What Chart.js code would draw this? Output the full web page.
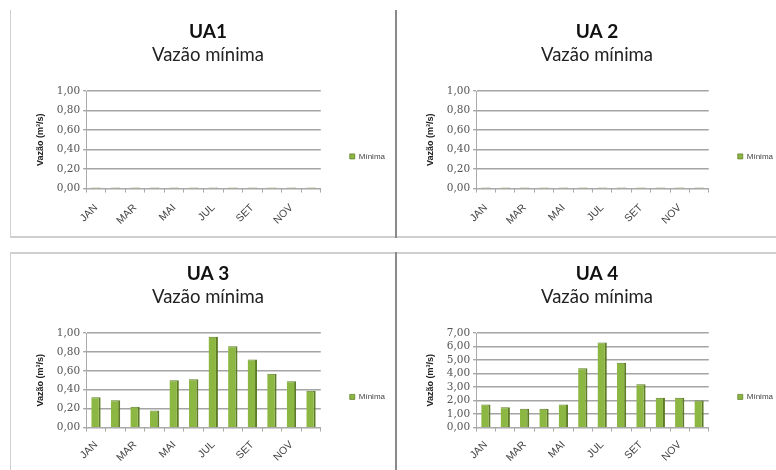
<!DOCTYPE html>
<html>
<head>
<meta charset="utf-8">
<script src="https://cdn.jsdelivr.net/npm/chart.js@4.4.1/dist/chart.umd.min.js"></script>
<style>
  html, body { margin: 0; padding: 0; background: #fff; }
  body { width: 776px; height: 470px; position: relative; overflow: hidden; }
  .panel { position: absolute; box-sizing: border-box; }
  .panel canvas { display: block; }
  .vline { position: absolute; width: 2px; background: #8a8a8a; }
</style>
</head>
<body>
<div class="panel" style="left:10px; top:10px; width:387px; height:228px; border-left:1px solid #d0d0d0; border-bottom:2px solid #cfcfcf;"><canvas id="c1" width="386" height="226"></canvas></div>
<div class="panel" style="left:397px; top:10px; width:379px; height:228px; border-bottom:2px solid #cfcfcf;"><canvas id="c2" width="379" height="226"></canvas></div>
<div class="panel" style="left:10px; top:252px; width:387px; height:218px; border-left:1px solid #d0d0d0; border-top:2px solid #cfcfcf;"><canvas id="c3" width="386" height="216"></canvas></div>
<div class="panel" style="left:397px; top:252px; width:379px; height:218px; border-top:2px solid #cfcfcf;"><canvas id="c4" width="379" height="216"></canvas></div>
<div class="vline" style="left:395px; top:10px; height:228px;"></div>
<div class="vline" style="left:395px; top:252px; height:218px;"></div>
<script>
// ---- data ----
const categories = ['JAN','FEV','MAR','ABR','MAI','JUN','JUL','AGO','SET','OUT','NOV','DEZ'];
const titles = ['UA1', 'UA 2', 'UA 3', 'UA 4'];
const subtitleText = 'Vazão mínima';
const seriesName = 'Mínima';
const axisTitle = 'Vazão (m³/s)';
const ua1Values = [0.01,0.01,0.01,0.01,0.01,0.01,0.01,0.01,0.01,0.01,0.01,0.01];
const ua2Values = [0.01,0.01,0.01,0.01,0.01,0.01,0.01,0.01,0.01,0.01,0.01,0.01];
const ua3Values = [0.32,0.29,0.22,0.18,0.50,0.51,0.96,0.86,0.72,0.57,0.49,0.39];
const ua4Values = [1.7,1.5,1.4,1.4,1.7,4.4,6.3,4.8,3.2,2.2,2.2,2.0];
const yMaxes = [1, 1, 1, 7];
const ySteps = [0.2, 0.2, 0.2, 1];

const green = '#8db743';
const greenDark = '#5e7c26';

function makeChart(id, title, values, yMax, yStep, pad, xTickPad) {
  new Chart(document.getElementById(id), {
    type: 'bar',
    data: {
      labels: categories,
      datasets: [{
        label: seriesName,
        data: values,
        backgroundColor: green,
        borderColor: greenDark,
        borderWidth: {left: 0, right: 2, top: 1, bottom: 0},
        borderSkipped: false,
        barPercentage: 0.48,
        categoryPercentage: 1.0
      }]
    },
    options: {
      responsive: false,
      animation: false,
      layout: { padding: pad },
      plugins: {
        title: {
          display: true, text: title, color: '#111',
          font: { family: 'Lato, "Open Sans", sans-serif', size: 19, weight: 'bold' },
          padding: { top: 7, bottom: 1 }
        },
        subtitle: {
          display: true, text: subtitleText, color: '#222',
          font: { family: 'Lato, "Open Sans", sans-serif', size: 18.5, weight: 'normal' },
          padding: { top: 0, bottom: 25 }
        },
        legend: {
          position: 'right',
          fullSize: false,
          title: { display: true, text: '', font: { size: 1 }, padding: { top: 0, bottom: 32 } },
          labels: {
            boxWidth: 5, boxHeight: 5, color: '#444',
            font: { family: '"Liberation Sans", sans-serif', size: 8 },
            padding: 29
          }
        },
        tooltip: { enabled: false }
      },
      scales: {
        x: {
          grid: { display: true, drawOnChartArea: false, drawTicks: true, tickLength: 4, color: '#aaa' },
          border: { display: true, color: '#aaa' },
          ticks: {
            autoSkip: false, maxRotation: 45, minRotation: 45,
            color: '#444', padding: xTickPad,
            font: { family: '"Liberation Sans", sans-serif', size: 10.5 },
            callback: function(v, i) { return i % 2 === 0 ? categories[i] : ''; }
          }
        },
        y: {
          min: 0, max: yMax,
          title: {
            display: true, text: axisTitle, color: '#222',
            font: { family: '"Liberation Sans", sans-serif', size: 9, weight: 'bold' },
            padding: { top: 14, bottom: 8 }
          },
          grid: { color: '#a4a4a4', lineWidth: 1.4, tickLength: 3, drawTicks: true },
          border: { display: true, color: '#aaa' },
          ticks: {
            stepSize: yStep, autoSkip: false, color: '#555', padding: 3,
            font: { family: '"DejaVu Serif", serif', size: 10.5 },
            callback: function(v) { return Number(v).toFixed(2).replace('.', ','); }
          }
        }
      }
    }
  });
}

makeChart('c1', titles[0], ua1Values, yMaxes[0], ySteps[0], { left: 10, right: 2, top: 3, bottom: 0 }, 9);
makeChart('c2', titles[1], ua2Values, yMaxes[1], ySteps[1], { left: 14, right: -7, top: 3, bottom: 0 }, 9);
makeChart('c3', titles[2], ua3Values, yMaxes[2], ySteps[2], { left: 10, right: 2, top: 1, bottom: -1 }, 7);
makeChart('c4', titles[3], ua4Values, yMaxes[3], ySteps[3], { left: 14, right: -7, top: 1, bottom: -1 }, 7);
</script>
</body>
</html>
